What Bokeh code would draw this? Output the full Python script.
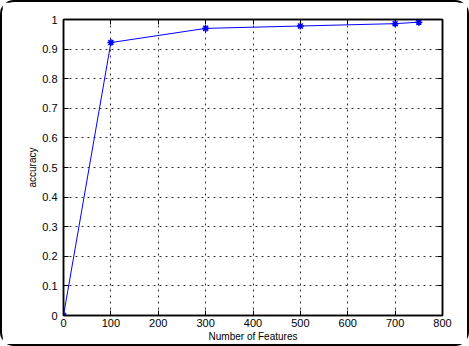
from bokeh.plotting import figure
from bokeh.models import LinearAxis, Range1d, FixedTicker
from bokeh.embed import file_html
from bokeh.resources import INLINE

features = [0, 100, 300, 500, 700, 750]
accuracy = [0.0, 0.922, 0.970, 0.978, 0.986, 0.991]
x_ticks = [0, 100, 200, 300, 400, 500, 600, 700, 800]
y_ticks = [0, 0.1, 0.2, 0.3, 0.4, 0.5, 0.6, 0.7, 0.8, 0.9, 1]

FONT = "Liberation Sans"

p = figure(width=469, height=346, output_backend="svg", toolbar_location=None,
           x_range=Range1d(0, 800), y_range=Range1d(0, 1),
           min_border_left=61, min_border_right=29, min_border_top=17, min_border_bottom=33)

p.styles = {"border": "2px solid black", "border-radius": "14px", "box-sizing": "border-box"}

p.outline_line_color = "black"
p.outline_line_width = 1.5
p.outline_line_alpha = 1

for ax, ticks in ((p.xaxis[0], x_ticks), (p.yaxis[0], y_ticks)):
    ax.ticker = FixedTicker(ticks=ticks)
    ax.major_tick_in = 5
    ax.major_tick_out = 0
    ax.minor_tick_in = 0
    ax.minor_tick_out = 0
    ax.axis_line_color = "black"
    ax.axis_line_width = 1.5
    ax.major_label_text_font = FONT
    ax.major_label_text_font_size = "11px"
    ax.major_label_text_color = "black"
    ax.axis_label_text_font = FONT
    ax.axis_label_text_font_size = "10px"
    ax.axis_label_text_font_style = "normal"
    ax.axis_label_text_color = "black"
    ax.major_label_standoff = 3
    ax.axis_label_standoff = 1

p.xaxis.axis_label = "Number of Features"
p.yaxis.axis_label = "accuracy"
p.xaxis.major_label_overrides = {t: str(t) for t in x_ticks}
p.yaxis.major_label_overrides = {0: "0", 1: "1"}
p.yaxis[0].major_label_standoff = 6

for loc, ticks in (("right", y_ticks), ("above", x_ticks)):
    a = LinearAxis(ticker=FixedTicker(ticks=ticks))
    a.major_tick_in = 5
    a.major_tick_out = 0
    a.minor_tick_in = 0
    a.minor_tick_out = 0
    a.major_label_overrides = {t: "" for t in ticks}
    a.major_label_text_font_size = "0px"
    a.major_label_standoff = 0
    a.axis_line_color = "black"
    a.axis_line_width = 1.5
    p.add_layout(a, loc)

for g in (p.xgrid[0], p.ygrid[0]):
    g.grid_line_color = "black"
    g.grid_line_dash = "2 4"
    g.grid_line_width = 1
    g.grid_line_alpha = 0.8
p.xgrid.ticker = FixedTicker(ticks=x_ticks)
p.ygrid.ticker = FixedTicker(ticks=y_ticks)

p.line(features, accuracy, line_color="#0000ff", line_width=1)
p.scatter(features, accuracy, marker="asterisk", size=7, line_color="#0000ff", line_width=1.5)

open("out.html", "w").write(file_html(p, INLINE))
